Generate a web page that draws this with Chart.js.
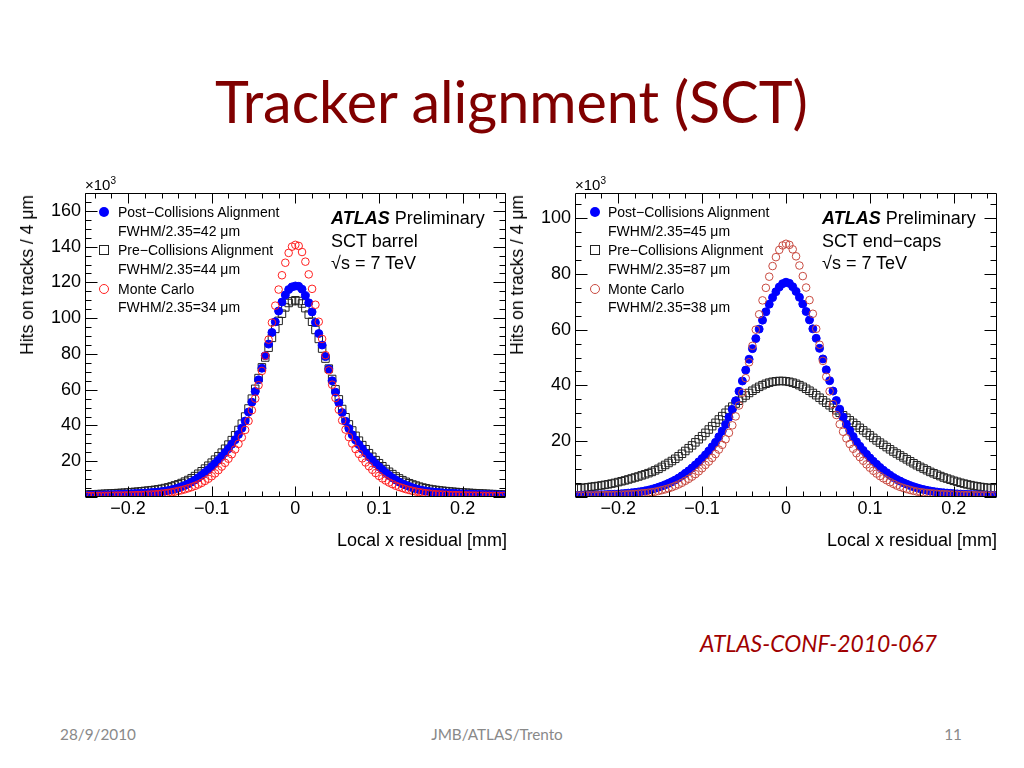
<!DOCTYPE html>
<html><head><meta charset="utf-8">
<script src="https://cdn.jsdelivr.net/npm/chart.js@4.4.0/dist/chart.umd.min.js"></script>
<style>
html,body{margin:0;padding:0;background:#fff;}
#page{position:relative;width:1024px;height:768px;overflow:hidden;font-family:"Liberation Sans",Arial,sans-serif;color:#000;}
.t{position:absolute;white-space:nowrap;}
canvas{position:absolute;}
.lg{position:absolute;white-space:nowrap;font-size:14px;height:20px;line-height:20px;}
.an{position:absolute;white-space:nowrap;font-size:18px;height:24px;line-height:24px;}
.mk{position:absolute;box-sizing:border-box;width:10px;height:10px;}
.dot{background:#0000ff;border-radius:50%;}
.sq{border:1px solid #222;}
.ci{border:1px solid #ff2020;border-radius:50%;}
.ci2{border:1px solid #c84a40;border-radius:50%;}
.ytitle{position:absolute;white-space:nowrap;font-size:17.5px;line-height:20px;transform-origin:0 0;transform:rotate(-90deg) translate(-100%,-50%);}
.xtitle{position:absolute;white-space:nowrap;font-size:18px;line-height:24px;text-align:right;}
.e10{position:absolute;white-space:nowrap;font-size:15px;line-height:18px;}
.e10 span{font-size:10px;position:relative;top:-6px;}
.cal{position:absolute;white-space:nowrap;font-family:Lato,"Open Sans",sans-serif;line-height:1;}
</style></head><body><div id="page">
<canvas id="cL" width="512" height="400" style="left:0;top:170px;width:512px;height:400px"></canvas>
<canvas id="cR" width="512" height="400" style="left:512px;top:170px;width:512px;height:400px"></canvas>

<div id="title" class="cal" style="color:#800000;">Tracker alignment (SCT)</div>
<div id="conf" class="cal" style="color:#a00000;font-style:italic;">ATLAS-CONF-2010-067</div>
<div id="f1" class="cal" style="color:#898989;">28/9/2010</div>
<div id="f2" class="cal" style="color:#898989;">JMB/ATLAS/Trento</div>
<div id="f3" class="cal" style="color:#898989;">11</div>

<!-- left plot texts -->
<div class="e10" style="left:85px;top:176px;">×10<span>3</span></div>
<div class="ytitle" style="left:27px;top:195px;">Hits on tracks / 4 μm</div>
<div class="xtitle" style="right:517px;top:528px;">Local x residual [mm]</div>
<div class="mk dot" style="left:99px;top:207px;"></div>
<div class="lg" style="left:118px;top:202px;">Post−Collisions Alignment</div>
<div class="lg" style="left:118px;top:221px;">FWHM/2.35=42 μm</div>
<div class="mk sq" style="left:99px;top:245px;"></div>
<div class="lg" style="left:118px;top:240px;">Pre−Collisions Alignment</div>
<div class="lg" style="left:118px;top:259px;">FWHM/2.35=44 μm</div>
<div class="mk ci" style="left:99px;top:284px;"></div>
<div class="lg" style="left:118px;top:279px;">Monte Carlo</div>
<div class="lg" style="left:118px;top:297px;">FWHM/2.35=34 μm</div>
<div class="an" style="left:331px;top:206px;"><b><i>ATLAS</i></b> Preliminary</div>
<div class="an" style="left:331px;top:229px;">SCT barrel</div>
<div class="an" style="left:331px;top:251px;">√s = 7 TeV</div>

<!-- right plot texts -->
<div class="e10" style="left:575px;top:176px;">×10<span>3</span></div>
<div class="ytitle" style="left:517px;top:195px;">Hits on tracks / 4 μm</div>
<div class="xtitle" style="right:27px;top:528px;">Local x residual [mm]</div>
<div class="mk dot" style="left:590px;top:207px;"></div>
<div class="lg" style="left:608px;top:202px;">Post−Collisions Alignment</div>
<div class="lg" style="left:608px;top:221px;">FWHM/2.35=45 μm</div>
<div class="mk sq" style="left:590px;top:245px;"></div>
<div class="lg" style="left:608px;top:240px;">Pre−Collisions Alignment</div>
<div class="lg" style="left:608px;top:259px;">FWHM/2.35=87 μm</div>
<div class="mk ci2" style="left:590px;top:284px;"></div>
<div class="lg" style="left:608px;top:279px;">Monte Carlo</div>
<div class="lg" style="left:608px;top:297px;">FWHM/2.35=38 μm</div>
<div class="an" style="left:822px;top:206px;"><b><i>ATLAS</i></b> Preliminary</div>
<div class="an" style="left:822px;top:229px;">SCT end−caps</div>
<div class="an" style="left:822px;top:251px;">√s = 7 TeV</div>
</div>
<script>
// bin centres (mm), 4 um bins
const xBins = [-0.248,-0.244,-0.24,-0.236,-0.232,-0.228,-0.224,-0.22,-0.216,-0.212,-0.208,-0.204,-0.2,-0.196,-0.192,-0.188,-0.184,-0.18,-0.176,-0.172,-0.168,-0.164,-0.16,-0.156,-0.152,-0.148,-0.144,-0.14,-0.136,-0.132,-0.128,-0.124,-0.12,-0.116,-0.112,-0.108,-0.104,-0.1,-0.096,-0.092,-0.088,-0.084,-0.08,-0.076,-0.072,-0.068,-0.064,-0.06,-0.056,-0.052,-0.048,-0.044,-0.04,-0.036,-0.032,-0.028,-0.024,-0.02,-0.016,-0.012,-0.008,-0.004,0,0.004,0.008,0.012,0.016,0.02,0.024,0.028,0.032,0.036,0.04,0.044,0.048,0.052,0.056,0.06,0.064,0.068,0.072,0.076,0.08,0.084,0.088,0.092,0.096,0.1,0.104,0.108,0.112,0.116,0.12,0.124,0.128,0.132,0.136,0.14,0.144,0.148,0.152,0.156,0.16,0.164,0.168,0.172,0.176,0.18,0.184,0.188,0.192,0.196,0.2,0.204,0.208,0.212,0.216,0.22,0.224,0.228,0.232,0.236,0.24,0.244,0.248];

// SCT barrel (x10^3 hits)
const barrelPost = [0.95,1.0,1.05,1.1,1.15,1.2,1.25,1.3,1.4,1.45,1.5,1.6,1.7,1.8,1.9,2.0,2.1,2.2,2.3,2.45,2.6,2.8,3.0,3.3,3.6,4.0,4.5,5.1,5.8,6.5,7.4,8.4,9.5,10.8,12.2,13.7,15.3,17,18.7,20.6,22.6,24.8,27,29.5,32,35,38.5,42.5,47.5,53,59,65.5,72,79,85.5,92,98,104,109,113,116,117.5,
118,
117.8,116.2,112.6,108.6,103.5,97.6,91.4,85,78.5,71.6,65,58.6,52.7,47.2,42.3,38.3,34.8,31.9,29.3,26.9,24.6,22.5,20.5,18.6,16.9,15.2,13.6,12.1,10.7,9.5,8.4,7.4,6.6,5.9,5.2,4.6,4.1,3.7,3.35,3.05,2.85,2.65,2.5,2.35,2.25,2.15,2.05,1.95,1.85,1.75,1.65,1.55,1.5,1.45,1.4,1.35,1.3,1.25,1.2,1.15,1.1,1.05];
const barrelPre = [1.4,1.45,1.5,1.6,1.7,1.8,1.9,2.0,2.1,2.2,2.3,2.4,2.55,2.7,2.85,3.0,3.2,3.4,3.6,3.8,4.0,4.3,4.6,5.0,5.4,5.9,6.5,7.1,7.8,8.6,9.5,10.5,11.7,13,14.4,15.9,17.5,19.2,20.9,22.8,24.8,27,29.3,31.8,34.5,37.5,41,45,49.5,55,60.5,66.5,72.5,78,83.5,89,94,98.5,102.5,106,108.5,109.5,
110,
109.6,108.2,105.6,102,98,93.4,88.4,83,77.4,71.8,66,60.2,54.6,49.2,44.6,40.6,37.2,34.2,31.5,29,26.7,24.5,22.5,20.6,18.9,17.2,15.6,14.1,12.8,11.5,10.4,9.4,8.5,7.7,7.0,6.4,5.8,5.3,4.9,4.5,4.2,3.95,3.7,3.5,3.3,3.1,2.95,2.8,2.65,2.5,2.4,2.3,2.2,2.1,2.0,1.9,1.8,1.7,1.62,1.55,1.5,1.45];
const barrelMC = [0.55,0.55,0.6,0.6,0.65,0.65,0.7,0.7,0.75,0.8,0.8,0.85,0.9,0.95,1.0,1.05,1.1,1.2,1.3,1.4,1.5,1.65,1.85,2.05,2.3,2.6,3.0,3.4,3.8,4.3,4.9,5.5,6.2,7.0,7.9,9.0,10.2,11.6,13.2,15,17,19.1,21.4,23.9,26.6,29.7,33.3,37.5,42.5,48.5,55,62.5,70.5,79,88,97.5,107,116,124,131,136.5,140,
141,
140.4,137,131.6,124.5,116.4,107.5,98,88.4,79.3,70.8,62.8,55.4,48.8,42.8,37.7,33.5,29.9,26.8,24.1,21.6,19.3,17.2,15.2,13.4,11.8,10.4,9.2,8.1,7.2,6.3,5.6,5.0,4.4,3.9,3.45,3.05,2.7,2.4,2.1,1.9,1.7,1.55,1.45,1.35,1.25,1.15,1.08,1.02,0.97,0.92,0.88,0.84,0.8,0.76,0.72,0.7,0.67,0.64,0.62,0.6,0.58,0.56];

// SCT end-caps (x10^3 hits)
const endcapPost = [0.58,0.6,0.62,0.65,0.68,0.72,0.76,0.8,0.85,0.9,0.95,1.0,1.08,1.17,1.27,1.38,1.5,1.65,1.8,2.0,2.2,2.45,2.75,3.1,3.5,3.9,4.4,4.9,5.5,6.1,6.8,7.6,8.5,9.4,10.4,11.5,12.6,13.8,15.1,16.5,18,19.6,21.6,23.7,26,28.6,31.4,34.5,37.9,41.6,45.5,49.4,53.2,56.8,60.2,63.4,66.4,69.1,71.5,73.6,75.3,76.5,
77,
76.6,75.4,73.7,71.6,69.2,66.5,63.5,60.3,56.9,53.3,49.5,45.6,41.7,38,34.6,31.5,28.7,26.1,23.8,21.7,19.8,18.2,16.7,15.3,14,12.8,11.7,10.6,9.6,8.7,7.8,7,6.3,5.7,5.1,4.6,4.1,3.7,3.3,2.95,2.65,2.4,2.15,1.95,1.78,1.62,1.5,1.4,1.3,1.2,1.12,1.05,0.98,0.92,0.87,0.82,0.78,0.74,0.7,0.67,0.64,0.62];
const endcapPre = [3.1,3.2,3.35,3.5,3.65,3.8,3.95,4.15,4.35,4.55,4.8,5.05,5.35,5.65,5.95,6.3,6.65,7.0,7.35,7.75,8.15,8.55,9.0,9.55,10.1,10.8,11.5,12.2,12.9,13.7,14.6,15.5,16.5,17.5,18.5,19.6,20.7,21.8,23.0,24.2,25.4,26.6,27.8,29.0,30.2,31.3,32.4,33.5,34.5,35.5,36.4,37.3,38.1,38.8,39.5,40.1,40.6,41.0,41.3,41.5,41.6,41.6,41.5,41.3,41.0,40.6,40.1,39.5,38.8,38.1,37.3,36.5,35.6,34.7,33.8,32.9,32.0,31.1,30.2,29.3,28.4,27.5,26.6,25.7,24.8,23.9,23.0,22.1,21.2,20.3,19.5,18.7,17.9,17.1,16.3,15.6,14.9,14.2,13.5,12.8,12.1,11.4,10.8,10.2,9.6,9.0,8.5,8.0,7.5,7.0,6.6,6.2,5.8,5.45,5.1,4.8,4.5,4.25,4.0,3.8,3.6,3.45,3.3,3.2,3.1];
const endcapMC = [0.5,0.5,0.52,0.54,0.56,0.58,0.6,0.62,0.65,0.68,0.72,0.76,0.8,0.85,0.9,0.95,1.0,1.1,1.2,1.3,1.4,1.55,1.7,1.9,2.15,2.45,2.75,3.1,3.5,4.0,4.5,5.1,5.8,6.5,7.3,8.2,9.2,10.3,11.5,12.7,14,15.4,17,18.7,20.7,23,25.7,28.9,32.8,37.4,42.6,48.3,54.2,60,65.5,70.5,75,79,82.8,86,88.6,90.2,
90.8,
90.4,88.8,86.3,83,79.2,75.1,70.6,65.7,60.3,54.6,48.8,43.1,37.9,33.3,29.4,26.1,23.4,21,19,17.3,15.7,14.3,13,11.7,10.5,9.4,8.4,7.5,6.7,6,5.3,4.7,4.1,3.6,3.2,2.85,2.5,2.2,1.95,1.75,1.6,1.45,1.35,1.25,1.15,1.05,1.0,0.94,0.89,0.84,0.8,0.76,0.72,0.69,0.66,0.63,0.61,0.59,0.57,0.55,0.53,0.52];

const xRange = [-0.2515, 0.2515];
const barrelYMax = 170;
const endcapYMax = 109;

// frame with inward ticks on all four sides (ROOT style), positioned via the chart scales
const frameTicks = {
  id: 'frameTicks',
  afterDatasetsDraw(chart, args, o) {
    const {ctx, chartArea: a, scales: {x, y}} = chart;
    ctx.save();
    ctx.strokeStyle = '#000';
    ctx.lineWidth = 1;
    const L = Math.round(a.left) + 0.5, R = Math.round(a.right) - 0.5;
    const T = Math.round(a.top) + 0.5, B = Math.round(a.bottom) - 0.5;
    ctx.beginPath();
    ctx.rect(L, T, R - L, B - T);
    const isMaj = (v, m) => Math.abs(v / m - Math.round(v / m)) < 1e-6;
    for (let k = Math.ceil(x.min / o.xMinor - 1e-9); k * o.xMinor <= x.max + 1e-9; k++) {
      const v = k * o.xMinor;
      const len = isMaj(v, o.xMajor) ? o.majLen : o.minLen;
      const px = Math.round(x.getPixelForValue(v)) + 0.5;
      ctx.moveTo(px, B); ctx.lineTo(px, B - len);
      ctx.moveTo(px, T); ctx.lineTo(px, T + len);
    }
    for (let k = Math.ceil(y.min / o.yMinor - 1e-9); k * o.yMinor <= y.max + 1e-9; k++) {
      const v = k * o.yMinor;
      const len = isMaj(v, o.yMajor) ? o.majLenY : o.minLenY;
      const py = Math.round(y.getPixelForValue(v)) + 0.5;
      ctx.moveTo(L, py); ctx.lineTo(L + len, py);
      ctx.moveTo(R, py); ctx.lineTo(R - len, py);
    }
    ctx.stroke();
    ctx.restore();
  }
};

const fmtX = v => Math.abs(v) < 1e-9 ? '0' : (v < 0 ? '\u2212' : '') + Math.abs(v).toFixed(1);
const tickFont = {family: 'Liberation Sans', size: 18};

function toPts(arr) { return xBins.map((x, i) => ({x: x, y: arr[i]})); }

function makeChart(id, post, pre, mc, mcColor, yMax, yW, padR) {
  return new Chart(document.getElementById(id), {
    type: 'scatter',
    data: {datasets: [
      {label: 'Monte Carlo', data: toPts(mc), pointStyle: 'circle', pointRadius: 3.8, borderWidth: 1,
       borderColor: mcColor, backgroundColor: 'rgba(0,0,0,0)'},
      {label: 'Post-Collisions Alignment', data: toPts(post), pointStyle: 'circle', pointRadius: 4, borderWidth: 1,
       borderColor: '#0000ff', backgroundColor: '#0000ff'},
      {label: 'Pre-Collisions Alignment', data: toPts(pre), pointStyle: 'rect', pointRadius: 5.3, borderWidth: 1,
       borderColor: '#222', backgroundColor: 'rgba(0,0,0,0)'}
    ]},
    options: {
      responsive: false, animation: false, events: [],
      layout: {padding: {left: 0, top: 23, right: padR, bottom: 0}},
      plugins: {legend: {display: false}, tooltip: {enabled: false},
        frameTicks: {xMajor: 0.1, xMinor: 0.02, yMajor: 20, yMinor: 5, majLen: 10, minLen: 5, majLenY: 12, minLenY: 6}},
      scales: {
        x: {type: 'linear', min: xRange[0], max: xRange[1],
          afterFit: s => { s.height = 73; },
          grid: {display: false, drawTicks: false}, border: {display: false},
          ticks: {stepSize: 0.1, includeBounds: false, autoSkip: false, maxRotation: 0, padding: 1,
            color: '#000', font: tickFont, callback: fmtX}},
        y: {type: 'linear', min: 0, max: yMax,
          afterFit: s => { s.width = yW; },
          grid: {display: false, drawTicks: false}, border: {display: false},
          ticks: {stepSize: 20, includeBounds: false, autoSkip: false, padding: 4,
            color: '#000', font: tickFont, callback: v => v === 0 ? '' : String(v)}}
      }
    },
    plugins: [frameTicks]
  });
}

makeChart('cL', barrelPost, barrelPre, barrelMC, '#ff2020', barrelYMax, 85, 5);
makeChart('cR', endcapPost, endcapPre, endcapMC, '#c84a40', endcapYMax, 63, 27);

// fit slide texts (Calibri substitute) to the reference widths
function fit(id, width, cx, cy, base) {
  const el = document.getElementById(id);
  el.style.fontSize = base + 'px';
  const w = el.getBoundingClientRect().width;
  const fs = base * width / w;
  el.style.fontSize = fs + 'px';
  place(el, cx, cy);
  return fs;
}
function place(el, cx, cy) {
  const r = el.getBoundingClientRect();
  el.style.left = (cx - r.width / 2) + 'px';
  el.style.top = (cy - r.height / 2) + 'px';
}
fit('title', 593, 511.5, 101, 56);
fit('conf', 237, 818.5, 643, 20);
const footSize = fit('f1', 76, 98, 735, 15);
const f2 = document.getElementById('f2');
f2.style.fontSize = footSize + 'px';
place(f2, 497, 735);
const f3 = document.getElementById('f3');
f3.style.fontSize = footSize + 'px';
place(f3, 953, 735);
</script>
</body></html>
